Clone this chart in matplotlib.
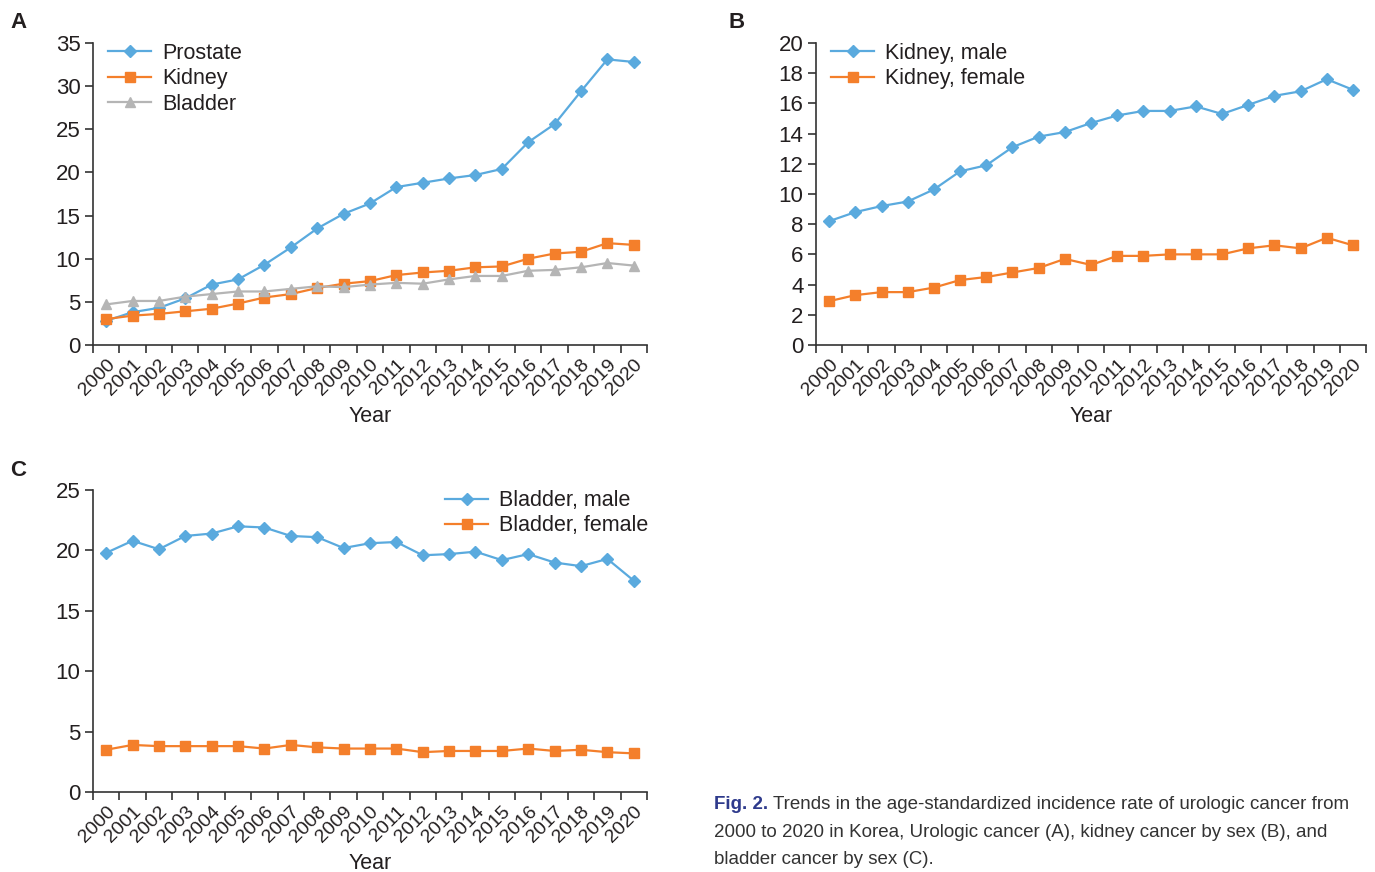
import matplotlib
matplotlib.use("Agg")
import matplotlib.pyplot as plt
import numpy as np

plt.rcParams['font.family'] = ['Liberation Sans', 'DejaVu Sans']

years = [str(y) for y in range(2000, 2021)]

# Panel A: urologic cancer
prostate = [2.8, 3.8, 4.3, 5.4, 7.0, 7.6, 9.3, 11.3, 13.5, 15.2, 16.4,
            18.3, 18.8, 19.3, 19.7, 20.4, 23.5, 25.6, 29.4, 33.1, 32.8]
kidney = [3.0, 3.4, 3.6, 3.9, 4.2, 4.8, 5.5, 5.9, 6.6, 7.1, 7.4,
          8.1, 8.4, 8.6, 9.0, 9.1, 10.0, 10.6, 10.8, 11.8, 11.6]
bladder = [4.7, 5.1, 5.1, 5.6, 5.9, 6.2, 6.2, 6.5, 6.8, 6.7, 7.0,
           7.2, 7.1, 7.6, 8.0, 8.0, 8.6, 8.7, 9.0, 9.5, 9.2]

# Panel B: kidney cancer by sex
kidney_male = [8.2, 8.8, 9.2, 9.5, 10.3, 11.5, 11.9, 13.1, 13.8, 14.1, 14.7,
               15.2, 15.5, 15.5, 15.8, 15.3, 15.9, 16.5, 16.8, 17.6, 16.9]
kidney_female = [2.9, 3.3, 3.5, 3.5, 3.8, 4.3, 4.5, 4.8, 5.1, 5.7, 5.3,
                 5.9, 5.9, 6.0, 6.0, 6.0, 6.4, 6.6, 6.4, 7.1, 6.6]

# Panel C: bladder cancer by sex
bladder_male = [19.8, 20.8, 20.1, 21.2, 21.4, 22.0, 21.9, 21.2, 21.1, 20.2, 20.6,
                20.7, 19.6, 19.7, 19.9, 19.2, 19.7, 19.0, 18.7, 19.3, 17.5]
bladder_female = [3.5, 3.9, 3.8, 3.8, 3.8, 3.8, 3.6, 3.9, 3.7, 3.6, 3.6,
                  3.6, 3.3, 3.4, 3.4, 3.4, 3.6, 3.4, 3.5, 3.3, 3.2]

BLUE = '#5aaade'
ORANGE = '#f47f2b'
GRAY = '#b5b5b5'
AXIS = '#333333'
TXT = '#231f20'

fig = plt.figure(figsize=(13.75, 8.72), dpi=100)
axA = fig.add_axes([0.0676, 0.6044, 0.4029, 0.3463])
axB = fig.add_axes([0.5935, 0.6044, 0.4000, 0.3463])
axC = fig.add_axes([0.0676, 0.0917, 0.4029, 0.3463])

x = np.arange(len(years))


def style_axis(ax, ymax, ystep):
    ax.set_xlim(-0.5, len(years) - 0.5)
    ax.set_ylim(0, ymax)
    ax.set_yticks(np.arange(0, ymax + 0.1, ystep))
    ax.set_xticks(np.arange(-0.5, len(years)), minor=False)
    ax.set_xticklabels([])
    ax.set_xticks(x, minor=True)
    ax.set_xticklabels(years, minor=True, rotation=45, ha='right',
                       rotation_mode='anchor', fontsize=14, color=TXT)
    ax.tick_params(axis='x', which='minor', length=0, pad=8)
    ax.tick_params(axis='x', which='major', length=6, width=1.2, color=AXIS)
    ax.tick_params(axis='y', length=6, width=1.2, color=AXIS, labelsize=16,
                   labelcolor=TXT, pad=3)
    for s in ['top', 'right']:
        ax.spines[s].set_visible(False)
    for s in ['left', 'bottom']:
        ax.spines[s].set_color(AXIS)
        ax.spines[s].set_linewidth(1.2)
    ax.set_xlabel('Year', fontsize=15.5, labelpad=5, color=TXT)


def add_legend(ax, loc, anchor):
    leg = ax.legend(loc=loc, bbox_to_anchor=anchor, frameon=False,
                    fontsize=15.5, handlelength=2.0, handletextpad=0.5,
                    labelspacing=0.2, borderaxespad=0.3)
    for t in leg.get_texts():
        t.set_color(TXT)


# A
axA.plot(x, prostate, color=BLUE, marker='D', ms=6, lw=1.6, label='Prostate')
axA.plot(x, kidney, color=ORANGE, marker='s', ms=6.5, lw=1.6, label='Kidney')
axA.plot(x, bladder, color=GRAY, marker='^', ms=7, lw=1.6, label='Bladder')
style_axis(axA, 35, 5)
add_legend(axA, 'upper left', (0.0, 1.05))

# B
axB.plot(x, kidney_male, color=BLUE, marker='D', ms=6, lw=1.6, label='Kidney, male')
axB.plot(x, kidney_female, color=ORANGE, marker='s', ms=6.5, lw=1.6, label='Kidney, female')
style_axis(axB, 20, 2)
add_legend(axB, 'upper left', (0.0, 1.05))

# C
axC.plot(x, bladder_male, color=BLUE, marker='D', ms=6, lw=1.6, label='Bladder, male')
axC.plot(x, bladder_female, color=ORANGE, marker='s', ms=6.5, lw=1.6, label='Bladder, female')
style_axis(axC, 25, 5)
add_legend(axC, 'upper right', (1.03, 1.05))

# panel letters
fig.text(10 / 1375, 1 - 22 / 872, 'A', fontsize=16, fontweight='bold', va='center', color=TXT)
fig.text(729 / 1375, 1 - 22 / 872, 'B', fontsize=16, fontweight='bold', va='center', color=TXT)
fig.text(10 / 1375, 1 - 470 / 872, 'C', fontsize=16, fontweight='bold', va='center', color=TXT)

# caption
cap_lines = [
    'Trends in the age-standardized incidence rate of urologic cancer from',
    '2000 to 2020 in Korea, Urologic cancer (A), kidney cancer by sex (B), and',
    'bladder cancer by sex (C).',
]
cx = 714 / 1375
cs = 13.5
t = fig.text(cx, 1 - 804 / 872, 'Fig. 2.', fontsize=cs, fontweight='bold',
             color='#2e3a8c', va='center')
fig.canvas.draw()
bb = t.get_window_extent()
fig.text((bb.x1 + 5) / 1375, 1 - 804 / 872, cap_lines[0], fontsize=cs,
         color='#333333', va='center')
fig.text(cx, 1 - 832 / 872, cap_lines[1], fontsize=cs, color='#333333', va='center')
fig.text(cx, 1 - 859 / 872, cap_lines[2], fontsize=cs, color='#333333', va='center')

fig.savefig('out.png', dpi=100)
